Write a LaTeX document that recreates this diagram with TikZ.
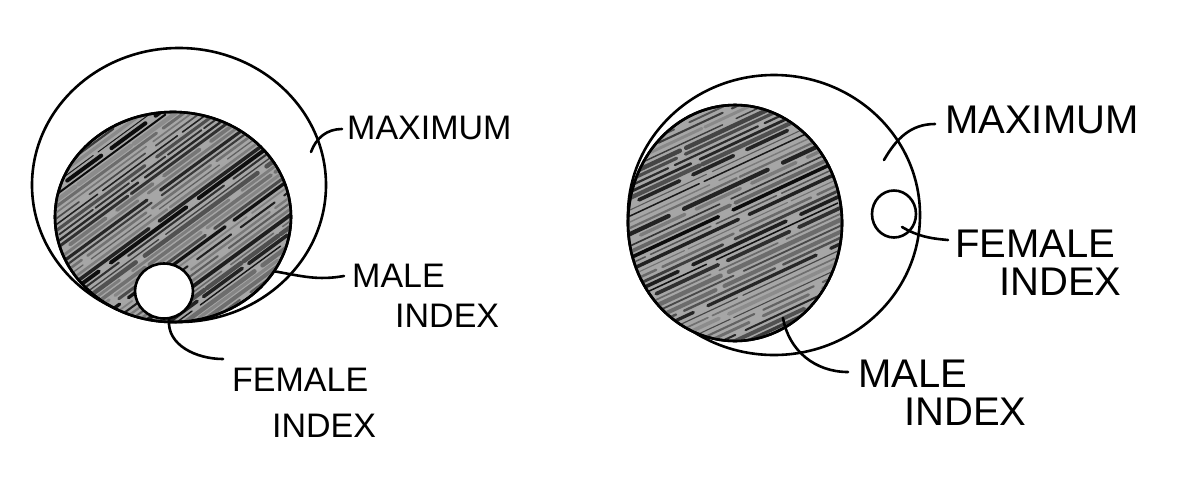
\documentclass[tikz,border=0pt]{standalone}
\usepackage{fontspec}
\setmainfont{Liberation Sans}
\usetikzlibrary{shapes.geometric}
\begin{document}
\begin{tikzpicture}[x=1pt,y=-1pt,
  ring/.style={draw, ellipse, line width=2.6pt, inner sep=0pt},
  labL/.style={font=\fontsize{34}{46}\selectfont, align=left, inner sep=0pt, anchor=north west},
  labR/.style={font=\fontsize{40}{38}\selectfont, align=left, inner sep=0pt, anchor=north west},
  lead/.style={line width=2.6pt, line cap=round},
  hatch/.style={line cap=round}]
\useasboundingbox[fill=white] (0,0) rectangle (1195,483);
\pgfmathsetseed{11}
% ---------------- left diagram ----------------
\node[ring, minimum width=294pt, minimum height=274pt] (outerL) at (179,185) {};
\node[ring, minimum width=236pt, minimum height=210pt, fill=black!35] (maleL) at (173,217) {};
\begin{scope}
  \clip (173,217) ellipse [x radius=117, y radius=104];
  \foreach \i in {-300,-294,...,300}{
    \pgfmathsetmacro\w{1+3.5*rnd}
    \pgfmathsetmacro\c{45+52*rnd}
    \pgfmathsetmacro\on{40+140*rnd}
    \pgfmathsetmacro\off{3+14*rnd}
    \draw[hatch, line width=\w pt, black!\c, dash pattern=on \on pt off \off pt] (23,217+\i+110) -- (323,217+\i-110);
  }
\end{scope}
\node[ring, minimum width=236pt, minimum height=210pt] at (173,217) {};
\node[ring, minimum width=58pt, minimum height=55pt, fill=white] (femL) at (164,291) {};
\node[labL] (maxL) at (347,116) {MAXIMUM};
\node[labL] (mlL) at (352,264) {MALE\\[-6pt]\hspace*{43pt}INDEX};
\node[labL] (fmL) at (232,368) {FEMALE\\\hspace*{40pt}INDEX};
\coordinate (pL) at (311,152);
\draw[lead] (pL) to[out=70,in=180] (342,129);
\draw[lead] (maleL.-28) to[out=-10,in=190] (344,276);
\draw[lead] (femL.-80) to[out=-95,in=180] (223,359);
% ---------------- right diagram ----------------
\node[ring, minimum width=292pt, minimum height=280pt] (outerR) at (774,215) {};
\node[ring, minimum width=214pt, minimum height=236pt, fill=black!35] (maleR) at (735,223) {};
\begin{scope}
  \clip (735,223) ellipse [x radius=106, y radius=117];
  \foreach \i in {-260,-254,...,260}{
    \pgfmathsetmacro\w{1+3.5*rnd}
    \pgfmathsetmacro\c{45+52*rnd}
    \pgfmathsetmacro\on{40+140*rnd}
    \pgfmathsetmacro\off{3+14*rnd}
    \draw[hatch, line width=\w pt, black!\c, dash pattern=on \on pt off \off pt] (585,223+\i+70) -- (885,223+\i-70);
  }
\end{scope}
\node[ring, minimum width=214pt, minimum height=236pt] at (735,223) {};
\node[ring, minimum width=44pt, minimum height=47pt] (femR) at (894,214) {};
\node[labR] (maxR) at (945,106) {MAXIMUM};
\node[labR] (fmR) at (955,230) {FEMALE\\\hspace*{44pt}INDEX};
\node[labR] (mlR) at (858,360) {MALE\\\hspace*{46pt}INDEX};
\coordinate (pR) at (884,160);
\coordinate (qR) at (783,318);
\coordinate (tR) at (902,227);
\draw[lead] (pR) to[out=60,in=180] (935,124);
\draw[lead] (tR) to[out=-30,in=175] (948,240);
\draw[lead] (qR) to[out=-80,in=180] (848,372);
\end{tikzpicture}
\end{document}
